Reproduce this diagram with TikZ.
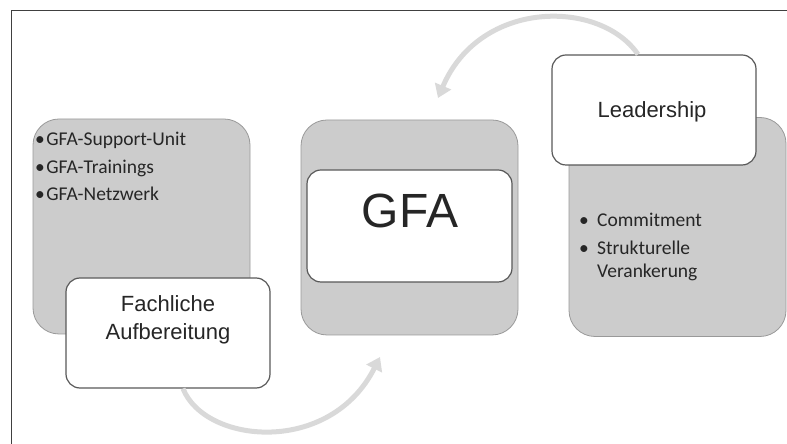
\documentclass[tikz,border=0pt]{standalone}
\usepackage{fontspec}
\setmainfont{Liberation Sans}
\newfontfamily\itemfont{Carlito}
\usetikzlibrary{arrows.meta,positioning}

\begin{document}
\begin{tikzpicture}[
  x=1pt, y=1pt,
  outerbox/.style={draw=black!40, fill=black!20, rounded corners=26pt, line width=0.8pt,
                   minimum width=217pt, minimum height=215pt, inner sep=0pt},
  innerbox/.style={draw=black!65, fill=white, rounded corners=14pt, line width=1.2pt,
                   minimum width=204pt, minimum height=110pt, inner sep=0pt},
  title/.style={font=\fontsize{22}{28}\selectfont, text=black!85, align=center, inner sep=0pt},
  item/.style={font=\itemfont\fontsize{19.5}{23}\selectfont, text=black!85, anchor=base west, inner sep=0pt},
  flow/.style={-{Triangle[width=17pt,length=13pt]}, line width=5pt, draw=black!15},
]
  \useasboundingbox (0,0) rectangle (787,444);
  % frame
  \draw[black!75, line width=1pt] (11,0) -- (11,433) -- (787,433);

  % grey boxes
  \node[outerbox] (left)  at (141.5,217.5) {};
  \node[outerbox] (mid)   at (409.5,216.5) {};
  \node[outerbox, minimum height=219pt] (right) at (677.5,217) {};

  % white boxes
  \node[innerbox] (fach) at (168,111) {};
  \node[innerbox, minimum width=205pt, minimum height=112pt] (gfa) at (409.5,218) {};
  \node[innerbox] (lead) at (654,334) {};

  \node[title, anchor=base] at (168,132) {Fachliche};
  \node[title, anchor=base] at (168,104) {Aufbereitung};
  \node[title, anchor=base, font=\fontsize{48}{50}\selectfont] at (410,216) {GFA};
  \node[title, anchor=base] at (652,326) {Leadership};

  % bullet lists
  \node[item] at (35,298) {•\hspace{1.5pt}GFA-Support-Unit};
  \node[item] at (35,270) {•\hspace{1.5pt}GFA-Trainings};
  \node[item] at (35,243) {•\hspace{1.5pt}GFA-Netzwerk};

  \node[item] at (579,217) {•};
  \node[item] at (597,217) {Commitment};
  \node[item] at (579,189) {•};
  \node[item] at (597,189) {Strukturelle};
  \node[item] at (597,166) {Verankerung};

  % cycle arrows
  \coordinate (topend) at (438,346);
  \coordinate (botend) at (380,87);
  \draw[flow] ([xshift=-16pt]lead.north) .. controls (600,445) and (480,445) .. (topend);
  \draw[flow] ([xshift=15pt]fach.south) .. controls (205,0) and (330,-12) .. (botend);
\end{tikzpicture}
\end{document}
